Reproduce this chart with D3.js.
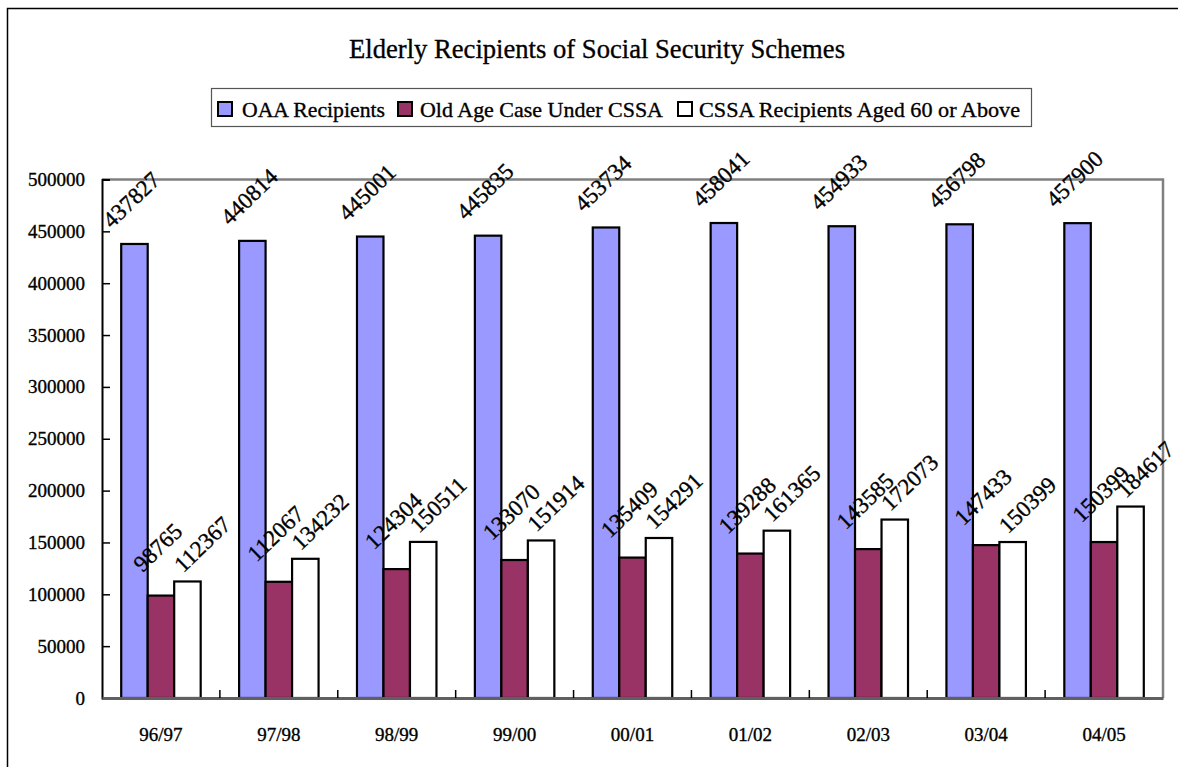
<!DOCTYPE html>
<html>
<head>
<meta charset="utf-8">
<script src="https://cdn.jsdelivr.net/npm/d3@7"></script>
<style>
  html, body { margin: 0; padding: 0; background: #fff; }
  svg { display: block; }
  text { font-family: "Liberation Serif", "Times New Roman", serif; fill: #000; stroke: #000; stroke-width: 0.35px; }
</style>
</head>
<body>
<svg id="chart" width="1178" height="767"></svg>
<script>
// ---- data ----
const categories = ["96/97", "97/98", "98/99", "99/00", "00/01", "01/02", "02/03", "03/04", "04/05"];
const seriesNames = ["OAA Recipients", "Old Age Case Under CSSA", "CSSA Recipients Aged 60 or Above"];
const oaaRecipients = [437827, 440814, 445001, 445835, 453734, 458041, 454933, 456798, 457900];
const oldAgeCSSA = [98765, 112067, 124304, 133070, 135409, 139288, 143585, 147433, 150399];
const cssaAged60 = [112367, 134232, 150511, 151914, 154291, 161365, 172073, 150399, 184617];
const yTicks = [0, 50000, 100000, 150000, 200000, 250000, 300000, 350000, 400000, 450000, 500000];
const titleText = "Elderly Recipients of Social Security Schemes";

(function () {
const seriesValues = [oaaRecipients, oldAgeCSSA, cssaAged60];
const colors = ["#9999FF", "#993366", "#FFFFFF"];
// label offsets per series (relative to bar top centre)
const labelDx = [-3, -3, 15];
const labelDy = [-44, -48, -37];

const svg = d3.select("#chart");

// outer chart border
svg.append("path")
  .attr("d", "M7.5,767 L7.5,8.5 L1178,8.5")
  .attr("fill", "none").attr("stroke", "#000").attr("stroke-width", 1.5);

// title
svg.append("text")
  .attr("x", 597).attr("y", 58)
  .attr("text-anchor", "middle")
  .attr("font-size", 28)
  .attr("textLength", 496).attr("lengthAdjust", "spacingAndGlyphs")
  .text(titleText);

// plot area
const pLeft = 102, pRight = 1163, pTop = 179.5, pBottom = 698;
const x0 = d3.scaleBand().domain(categories).range([pLeft, pRight]).padding(0);
const gapRatio = 1.45;
const bw = x0.bandwidth() / (3 + gapRatio);
const x1 = d3.scaleBand().domain(d3.range(3))
  .range([bw * gapRatio / 2, bw * gapRatio / 2 + 3 * bw]).padding(0);
const y = d3.scaleLinear().domain([0, 500000]).range([pBottom, pTop]);

// plot frame (top & right grey)
svg.append("path")
  .attr("d", `M${pLeft},${pTop} L${pRight},${pTop} L${pRight},${pBottom}`)
  .attr("fill", "none").attr("stroke", "#808080").attr("stroke-width", 2.5);

// bars
const data = [];
categories.forEach((c, i) => {
  seriesValues.forEach((vals, s) => data.push({ cat: c, s: s, v: vals[i] }));
});

svg.append("g").selectAll("rect").data(data).join("rect")
  .attr("x", d => x0(d.cat) + x1(d.s))
  .attr("y", d => y(d.v))
  .attr("width", x1.bandwidth())
  .attr("height", d => y(0) - y(d.v))
  .attr("fill", d => colors[d.s])
  .attr("stroke", "#000").attr("stroke-width", 2.2);

// y axis
const yAxis = d3.axisLeft(y).tickValues(yTicks).tickSize(-8).tickPadding(17)
  .tickFormat(d3.format("d"));
const gy = svg.append("g").attr("transform", `translate(${pLeft},0)`).call(yAxis);
gy.select(".domain").attr("stroke", "#000").attr("stroke-width", 2);
gy.selectAll(".tick line").attr("stroke", "#000").attr("stroke-width", 1.5);
gy.selectAll(".tick text").attr("font-size", 19);

// x axis
const xAxis = d3.axisBottom(x0).tickSize(0).tickPadding(30);
const gx = svg.append("g").attr("transform", `translate(0,${pBottom})`).call(xAxis);
gx.select(".domain").attr("stroke", "#606060").attr("stroke-width", 3);
gx.selectAll(".tick text").attr("font-size", 19);
// category separators (inward ticks)
svg.append("g").selectAll("line").data(categories.slice(1)).join("line")
  .attr("x1", d => x0(d)).attr("x2", d => x0(d))
  .attr("y1", pBottom).attr("y2", pBottom - 8)
  .attr("stroke", "#000").attr("stroke-width", 1.5);

// data labels
svg.append("g").selectAll("text").data(data).join("text")
  .attr("transform", d => {
    const cx = x0(d.cat) + x1(d.s) + x1.bandwidth() / 2 + labelDx[d.s];
    const cy = y(d.v) + labelDy[d.s];
    return `translate(${cx},${cy}) rotate(-44)`;
  })
  .attr("text-anchor", "middle")
  .attr("dominant-baseline", "central")
  .attr("font-size", 23)
  .text(d => d.v);

// legend
const lg = svg.append("g");
lg.append("rect").attr("x", 211.5).attr("y", 88.5).attr("width", 820).attr("height", 38)
  .attr("fill", "#fff").attr("stroke", "#555").attr("stroke-width", 1.2);
const legendItems = [
  { sx: 218, tx: 242, tl: 143 },
  { sx: 398, tx: 420, tl: 243 },
  { sx: 678, tx: 699, tl: 321 }
];
legendItems.forEach((it, i) => {
  lg.append("rect").attr("x", it.sx).attr("y", 102).attr("width", 14).attr("height", 14)
    .attr("fill", colors[i]).attr("stroke", "#000").attr("stroke-width", 2);
  lg.append("text").attr("x", it.tx).attr("y", 117)
    .attr("font-size", 22)
    .attr("textLength", it.tl).attr("lengthAdjust", "spacingAndGlyphs")
    .text(seriesNames[i]);
});
})();
</script>
</body>
</html>
